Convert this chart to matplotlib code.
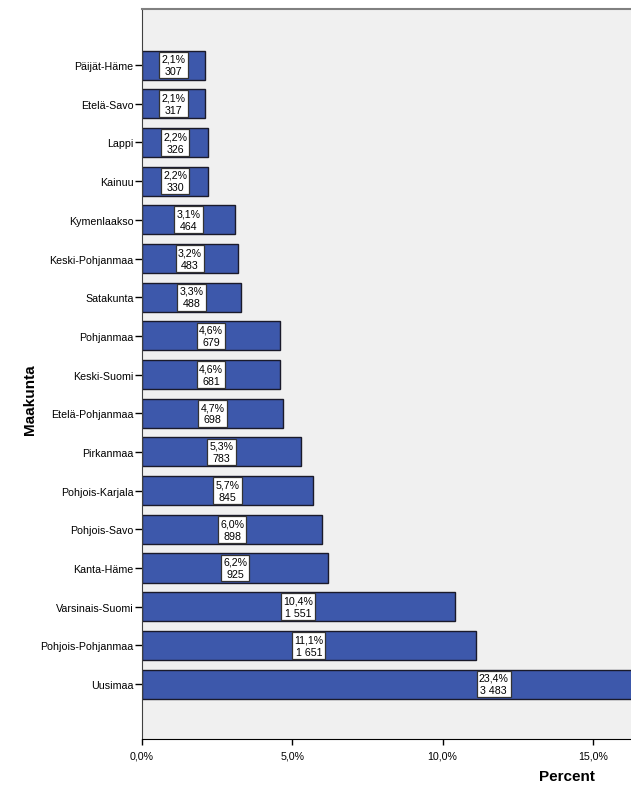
# Horizontal bar chart: share of respondents by maakunta

import matplotlib.pyplot as plt
import numpy as np

plt.rcParams['font.family'] = ['Liberation Sans', 'DejaVu Sans']

# Data (top to bottom as in the chart)
regions = ['Päijät-Häme', 'Etelä-Savo', 'Lappi', 'Kainuu', 'Kymenlaakso',
           'Keski-Pohjanmaa', 'Satakunta', 'Pohjanmaa', 'Keski-Suomi',
           'Etelä-Pohjanmaa', 'Pirkanmaa', 'Pohjois-Karjala', 'Pohjois-Savo',
           'Kanta-Häme', 'Varsinais-Suomi', 'Pohjois-Pohjanmaa', 'Uusimaa']
percents = [2.1, 2.1, 2.2, 2.2, 3.1, 3.2, 3.3, 4.6, 4.6, 4.7, 5.3, 5.7, 6.0,
            6.2, 10.4, 11.1, 23.4]
counts = ['307', '317', '326', '330', '464', '483', '488', '679', '681',
          '698', '783', '845', '898', '925', '1 551', '1 651', '3 483']
xticks = [0, 5, 10, 15]
xticklabels = ['0,0%', '5,0%', '10,0%', '15,0%']

fig = plt.figure(figsize=(6.31, 8.04), dpi=100)
ax = fig.add_axes([0.225, 0.0796, 0.775, 0.908])
ax.set_facecolor('#F0F0F0')

y = np.arange(len(regions))[::-1]
ax.barh(y, percents, height=0.75, color='#3D58AB', edgecolor='#1A1A2A',
        linewidth=1.0, zorder=2)

for yi, p, c in zip(y, percents, counts):
    txt = f"{p:.1f}".replace('.', ',') + '%\n' + c
    ax.text(p / 2, yi, txt, ha='center', va='center', fontsize=7.7,
            linespacing=1.3, zorder=4, clip_on=True,
            bbox=dict(boxstyle='square,pad=0.2', facecolor='white',
                      edgecolor='#333333', linewidth=0.9))

ax.set_xlim(0, 16.27)
ax.set_ylim(-1.42, 17.45)
ax.set_yticks(y)
ax.set_yticklabels(regions, fontsize=7.7)
ax.set_xticks(xticks)
ax.set_xticklabels(xticklabels, fontsize=7.7)
ax.tick_params(axis='y', length=5, width=1, pad=1)
ax.tick_params(axis='x', length=4, width=1, pad=4)

ax.spines['right'].set_visible(False)
ax.spines['top'].set_color('#808080')
ax.spines['top'].set_linewidth(1.5)
ax.spines['left'].set_color('#404040')
ax.spines['bottom'].set_color('black')

fig.text(30 / 631, 1 - 400 / 804, 'Maakunta', fontsize=11, fontweight='bold',
         rotation=90, ha='center', va='center')
fig.text(567 / 631, 1 - 777 / 804, 'Percent', fontsize=11, fontweight='bold',
         ha='center', va='center')

fig.savefig('out.png', dpi=100)
